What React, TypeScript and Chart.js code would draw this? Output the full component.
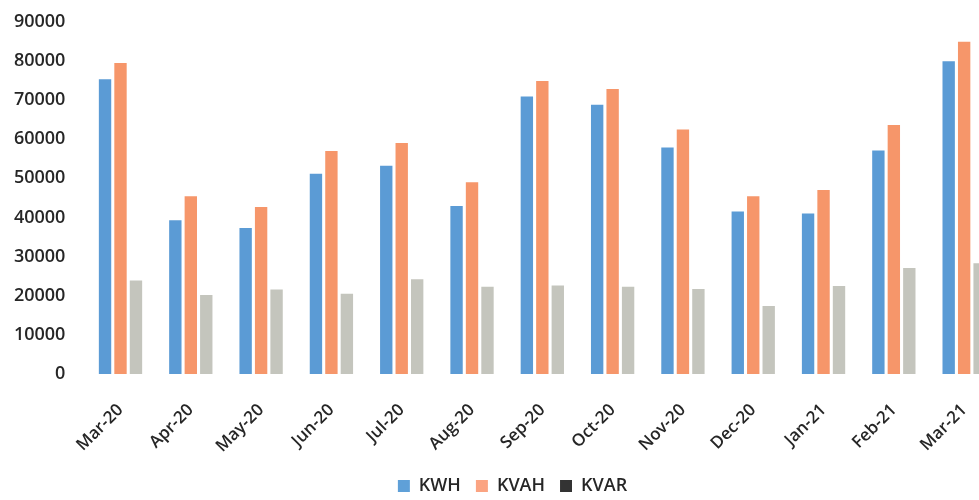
import React, { useEffect, useRef } from "react";
import { Chart, registerables } from "chart.js";

Chart.register(...registerables);

const categories = ["Mar-20", "Apr-20", "May-20", "Jun-20", "Jul-20", "Aug-20", "Sep-20", "Oct-20", "Nov-20", "Dec-20", "Jan-21", "Feb-21", "Mar-21"];
const kwh = [75300, 39300, 37300, 51200, 53200, 42900, 70900, 68800, 57900, 41500, 41000, 57100, 79900];
const kvah = [79500, 45400, 42700, 57000, 59000, 49000, 74900, 72800, 62500, 45400, 47000, 63600, 84900];
const kvar = [23900, 20200, 21600, 20500, 24200, 22300, 22600, 22300, 21700, 17400, 22500, 27100, 28300];
const yTicks = [0, 10000, 20000, 30000, 40000, 50000, 60000, 70000, 80000, 90000];

const FONT = "'Open Sans', sans-serif";

export default function App() {
  const ref = useRef<HTMLCanvasElement | null>(null);
  useEffect(() => {
    if (!ref.current) return;
    const legendColors = ["#5FA0D8", "#FBA482", "#333333"];
    const chart = new Chart(ref.current, {
      type: "bar",
      data: {
        labels: categories,
        datasets: [
          { label: "KWH", data: kwh, backgroundColor: "#5B9BD5", yAxisID: "y" },
          { label: "KVAH", data: kvah, backgroundColor: "#F6966A", yAxisID: "y" },
          { label: "KVAR", data: kvar, backgroundColor: "#C4C5BD", yAxisID: "y" },
        ],
      },
      options: {
        animation: false,
        responsive: false,
        devicePixelRatio: 1,
        layout: { padding: { top: 10, left: 0, right: 0, bottom: 0 } },
        datasets: { bar: { barPercentage: 0.8, categoryPercentage: 0.66 } },
        plugins: {
          tooltip: { enabled: false },
          legend: {
            position: "bottom",
            labels: {
              boxWidth: 12,
              boxHeight: 12,
              padding: 15,
              color: "#262626",
              font: { family: FONT, size: 18, weight: "600" },
              generateLabels: (c: any) =>
                Chart.defaults.plugins.legend.labels.generateLabels(c).map((it: any, i: number) => ({
                  ...it,
                  fillStyle: legendColors[i],
                  strokeStyle: legendColors[i],
                  lineWidth: 0,
                })),
            },
          },
        },
        scales: {
          x: {
            grid: { display: false, drawTicks: false },
            border: { display: false },
            ticks: {
              minRotation: 45,
              maxRotation: 45,
              padding: 26,
              color: "#262626",
              font: { family: FONT, size: 17, weight: "600" },
            },
            afterFit: (s: any) => {
              s.height = 88;
            },
          },
          y: {
            position: "left",
            min: 0,
            max: 90000,
            grid: { display: false, drawTicks: false },
            border: { display: false },
            afterBuildTicks: (s: any) => {
              s.ticks = yTicks.map((v) => ({ value: v }));
            },
            ticks: {
              padding: 20,
              color: "#262626",
              font: { family: FONT, size: 18, weight: "600" },
              callback: (v: any) => String(v),
            },
            afterFit: (s: any) => {
              s.width = 85.35;
            },
          },
          yRight: {
            position: "right",
            display: true,
            grid: { display: false, drawTicks: false },
            border: { display: false },
            ticks: { display: false },
            afterFit: (s: any) => {
              s.width = 25.7;
            },
          },
        },
      },
    } as any);
    return () => chart.destroy();
  }, []);
  return (
    <div style={{ position: "fixed", left: 0, top: 0, width: 979, height: 500, overflow: "hidden", background: "#fff" }}>
      <canvas
        ref={ref}
        width={1025}
        height={514}
        style={{ display: "block", position: "absolute", left: 0, top: -9, width: 1025, height: 514 }}
      />
    </div>
  );
}
